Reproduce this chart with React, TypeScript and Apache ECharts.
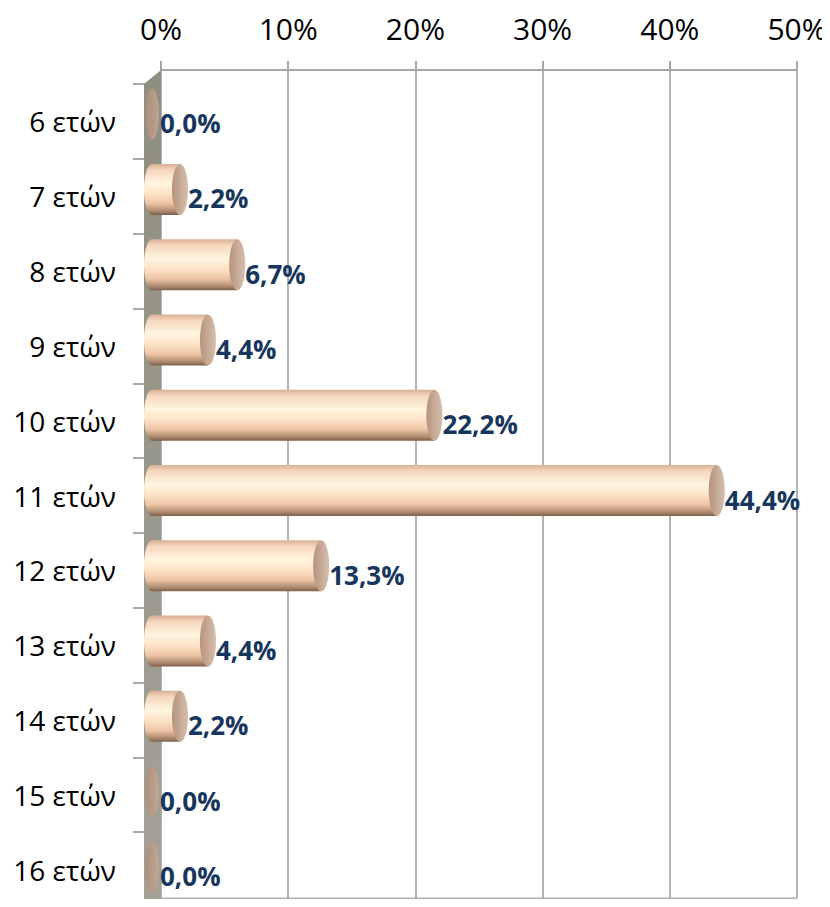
import React, { useEffect, useRef } from "react";
import * as echarts from "echarts";

const categories = ["6 ετών", "7 ετών", "8 ετών", "9 ετών", "10 ετών", "11 ετών", "12 ετών", "13 ετών", "14 ετών", "15 ετών", "16 ετών"];
const values = [0, 2.2, 6.7, 4.4, 22.2, 44.4, 13.3, 4.4, 2.2, 0, 0];
const tickValues = [0, 10, 20, 30, 40, 50];

const FONT = "'Open Sans', 'Noto Sans', sans-serif";

export default function App() {
  const ref = useRef<HTMLDivElement>(null);
  useEffect(() => {
    if (!ref.current) return;
    const chart = echarts.init(ref.current, null, { renderer: "svg" });
    const bodyGrad = new echarts.graphic.LinearGradient(0, 0, 0, 1, [
      { offset: 0, color: "#d9b094" },
      { offset: 0.12, color: "#f5d6bc" },
      { offset: 0.38, color: "#fff5e0" },
      { offset: 0.58, color: "#fde3c7" },
      { offset: 0.78, color: "#edc4a4" },
      { offset: 0.93, color: "#aa876d" },
      { offset: 1, color: "#7d5e4a" },
    ]);
    const capGrad = new echarts.graphic.LinearGradient(0, 0, 1, 0, [
      { offset: 0, color: "#b8937c" },
      { offset: 1, color: "#d4bfae" },
    ]);
    const zeroGrad = new echarts.graphic.LinearGradient(0, 0, 1, 0, [
      { offset: 0, color: "#b08b75" },
      { offset: 1, color: "#c2a898" },
    ]);
    const option: any = {
      animation: false,
      grid: [
        { left: 161, right: 33, top: 70, bottom: 9 },
        { left: 145, right: 49, top: 84, height: 825 },
      ],
      xAxis: [
        {
          gridIndex: 0,
          type: "value",
          position: "top",
          min: tickValues[0],
          max: tickValues[tickValues.length - 1],
          interval: 10,
          axisLine: { show: true, lineStyle: { color: "#a6a6a6", width: 2 } },
          axisTick: { show: true, length: 9, lineStyle: { color: "#a6a6a6", width: 2 } },
          axisLabel: {
            formatter: "{value}%",
            fontFamily: FONT,
            fontSize: 30,
            color: "#000",
            margin: 27,
          },
          splitLine: { show: true, lineStyle: { color: "#b3b3b3", width: 2 } },
        },
        { gridIndex: 1, type: "value", show: false, min: 0, max: 50 },
      ],
      yAxis: [
        {
          gridIndex: 0,
          type: "category",
          inverse: true,
          data: categories,
          axisLine: { show: false },
          axisTick: { show: false },
          axisLabel: { show: false },
        },
        {
          gridIndex: 1,
          type: "category",
          inverse: true,
          data: categories,
          axisLine: { show: false },
          axisTick: { show: true, length: 12, lineStyle: { color: "#8c8c8c", width: 1.5 } },
          axisLabel: {
            fontFamily: FONT,
            fontSize: 28,
            color: "#000",
            margin: 29,
          },
        },
      ],
      graphic: [
        {
          type: "polygon",
          z: 1,
          shape: { points: [[144, 84], [161, 70], [161, 898], [144, 910]] },
          style: {
            fill: new echarts.graphic.LinearGradient(0, 0, 0, 1, [
              { offset: 0, color: "#8e8e80" },
              { offset: 1, color: "#a4a298" },
            ]),
          },
        },
        {
          type: "polygon",
          z: 1,
          shape: { points: [[144, 910], [161, 898], [797, 898], [780, 910]] },
          style: { fill: "#c3c0b8", stroke: "#a9a69d", lineWidth: 1 },
        },
      ],
      series: [
        {
          type: "custom",
          xAxisIndex: 0,
          yAxisIndex: 0,
          z: 3,
          data: values.map((v, i) => [v, i]),
          renderItem: (params: any, api: any) => {
            const v = api.value(0);
            const idx = api.value(1);
            const p0 = api.coord([0, idx]);
            const p1 = api.coord([v, idx]);
            const cx0 = p0[0] - 9;
            const cx1 = p1[0] - 9;
            const cy = p0[1] + 6.5;
            const h = 51;
            const rx = 8;
            const label = v.toFixed(1).replace(".", ",") + "%";
            const children: any[] = [];
            if (v > 0) {
              children.push({
                type: "ellipse",
                shape: { cx: cx0, cy, rx, ry: h / 2 },
                style: { fill: bodyGrad },
              });
              children.push({
                type: "rect",
                shape: { x: cx0, y: cy - h / 2, width: cx1 - cx0, height: h },
                style: { fill: bodyGrad },
              });
              children.push({
                type: "ellipse",
                shape: { cx: cx1, cy, rx, ry: h / 2 },
                style: { fill: capGrad },
              });
            } else {
              children.push({
                type: "ellipse",
                shape: { cx: cx1, cy, rx: 7, ry: h / 2 },
                style: { fill: zeroGrad, opacity: 0.85 },
              });
            }
            children.push({
              type: "text",
              style: {
                x: cx1 + rx,
                y: cy + 9,
                text: label,
                fill: "#17365d",
                font: `bold 26px ${FONT}`,
                align: "left",
                verticalAlign: "middle",
              },
            });
            return { type: "group", children };
          },
        },
      ],
    };
    chart.setOption(option);
    return () => chart.dispose();
  }, []);
  return <div ref={ref} style={{ width: 830, height: 907, margin: -8 }} />;
}
